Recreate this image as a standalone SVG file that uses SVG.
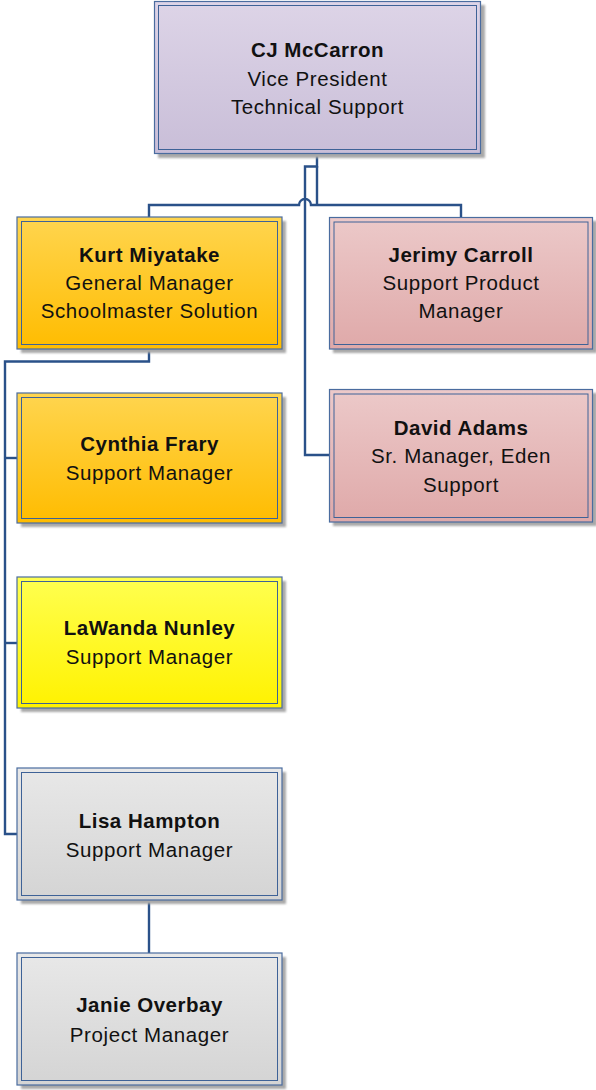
<svg xmlns="http://www.w3.org/2000/svg" width="596" height="1090" viewBox="0 0 596 1090">
  <style>
    .frame { stroke: #4a6c9f; stroke-width: 1.2; }
    .inner { fill: none; stroke: #3e6297; stroke-width: 1; }
    .shadow { fill: #a9a9a9; filter: url(#soft); }
    .name { font-family: "Liberation Sans", Arial, sans-serif; font-size: 20.5px; font-weight: bold; fill: #111; text-anchor: middle; letter-spacing: 0.5px; }
    .role { font-family: "Liberation Sans", Arial, sans-serif; font-size: 20.5px; fill: #111; text-anchor: middle; letter-spacing: 0.6px; }
    .link { fill: none; stroke: #2a5189; stroke-width: 2.4; stroke-linejoin: miter; }
  </style>
  <defs>
    <filter id="soft" x="-5%" y="-5%" width="110%" height="110%">
      <feGaussianBlur stdDeviation="1"/>
    </filter>
    <linearGradient id="lavender" x1="0" y1="0" x2="0" y2="1">
      <stop offset="0" stop-color="#ddd4e7"/>
      <stop offset="1" stop-color="#c9bed8"/>
    </linearGradient>
    <linearGradient id="orange" x1="0" y1="0" x2="0" y2="1">
      <stop offset="0" stop-color="#ffd54f"/>
      <stop offset="1" stop-color="#ffbc00"/>
    </linearGradient>
    <linearGradient id="pink" x1="0" y1="0" x2="0" y2="1">
      <stop offset="0" stop-color="#ecc9c9"/>
      <stop offset="1" stop-color="#dfa9a9"/>
    </linearGradient>
    <linearGradient id="yellow" x1="0" y1="0" x2="0" y2="1">
      <stop offset="0" stop-color="#ffff50"/>
      <stop offset="1" stop-color="#fff200"/>
    </linearGradient>
    <linearGradient id="grey" x1="0" y1="0" x2="0" y2="1">
      <stop offset="0" stop-color="#e8e8e8"/>
      <stop offset="1" stop-color="#d4d4d4"/>
    </linearGradient>
  </defs>

  <!-- reporting lines -->
  <g id="connectors">
    <!-- VP down, short jog left, then the trunk to David Adams -->
    <path class="link" d="M317 154 V166.5 H305 V455 H330"/>
    <!-- VP branch to the two top-row boxes, hopping over the trunk -->
    <path class="link" d="M149 217 V205 H299 A6 6 0 0 1 311 205 H461 V217"/>
    <path class="link" d="M317 166 V205"/>
    <!-- Kurt Miyatake to his reports -->
    <path class="link" d="M149 349 V361.5 H5 V834 H17"/>
    <path class="link" d="M5 458 H17"/>
    <path class="link" d="M5 643 H17"/>
    <!-- Lisa Hampton to Janie Overbay -->
    <path class="link" d="M149 900 V953"/>
  </g>

  <g id="cj-mccarron">
    <rect class="shadow" x="158" y="5" width="327" height="153"/>
    <rect class="frame" x="154.5" y="1.5" width="326" height="152" fill="url(#lavender)"/>
    <rect class="inner" x="158.5" y="5.5" width="318" height="144"/>
    <text class="name" x="317.5" y="57">CJ McCarron</text>
    <text class="role" x="317.5" y="86">Vice President</text>
    <text class="role" x="317.5" y="114">Technical Support</text>
  </g>

  <g id="kurt-miyatake">
    <rect class="shadow" x="21" y="221" width="265" height="132"/>
    <rect class="frame" x="17" y="217" width="265" height="132" fill="url(#orange)"/>
    <rect class="inner" x="21.5" y="221.5" width="256" height="123"/>
    <text class="name" x="149.5" y="262">Kurt Miyatake</text>
    <text class="role" x="149.5" y="290">General Manager</text>
    <text class="role" x="149.5" y="318">Schoolmaster Solution</text>
  </g>

  <g id="jerimy-carroll">
    <rect class="shadow" x="333" y="221" width="264" height="132"/>
    <rect class="frame" x="329.5" y="217.5" width="263" height="131.5" fill="url(#pink)"/>
    <rect class="inner" x="334" y="222" width="254" height="122.5"/>
    <text class="name" x="461" y="262">Jerimy Carroll</text>
    <text class="role" x="461" y="290">Support Product</text>
    <text class="role" x="461" y="318">Manager</text>
  </g>

  <g id="david-adams">
    <rect class="shadow" x="333" y="393" width="264" height="133"/>
    <rect class="frame" x="329.5" y="389.5" width="263" height="132.5" fill="url(#pink)"/>
    <rect class="inner" x="334" y="394" width="254" height="123.5"/>
    <text class="name" x="461" y="435">David Adams</text>
    <text class="role" x="461" y="463">Sr. Manager, Eden</text>
    <text class="role" x="461" y="492">Support</text>
  </g>

  <g id="cynthia-frary">
    <rect class="shadow" x="21" y="397" width="265" height="130"/>
    <rect class="frame" x="17" y="393" width="265" height="130" fill="url(#orange)"/>
    <rect class="inner" x="21.5" y="397.5" width="256" height="121"/>
    <text class="name" x="149.5" y="451">Cynthia Frary</text>
    <text class="role" x="149.5" y="480">Support Manager</text>
  </g>

  <g id="lawanda-nunley">
    <rect class="shadow" x="21" y="581" width="265" height="131"/>
    <rect class="frame" x="17" y="577" width="265" height="131" fill="url(#yellow)"/>
    <rect class="inner" x="21.5" y="581.5" width="256" height="122"/>
    <text class="name" x="149.5" y="635">LaWanda Nunley</text>
    <text class="role" x="149.5" y="664">Support Manager</text>
  </g>

  <g id="lisa-hampton">
    <rect class="shadow" x="21" y="772" width="265" height="132"/>
    <rect class="frame" x="17" y="768" width="265" height="132" fill="url(#grey)"/>
    <rect class="inner" x="21.5" y="772.5" width="256" height="123"/>
    <text class="name" x="149.5" y="828">Lisa Hampton</text>
    <text class="role" x="149.5" y="857">Support Manager</text>
  </g>

  <g id="janie-overbay">
    <rect class="shadow" x="21" y="957" width="265" height="132"/>
    <rect class="frame" x="17" y="953" width="265" height="132" fill="url(#grey)"/>
    <rect class="inner" x="21.5" y="957.5" width="256" height="123"/>
    <text class="name" x="149.5" y="1012">Janie Overbay</text>
    <text class="role" x="149.5" y="1042">Project Manager</text>
  </g>
</svg>
